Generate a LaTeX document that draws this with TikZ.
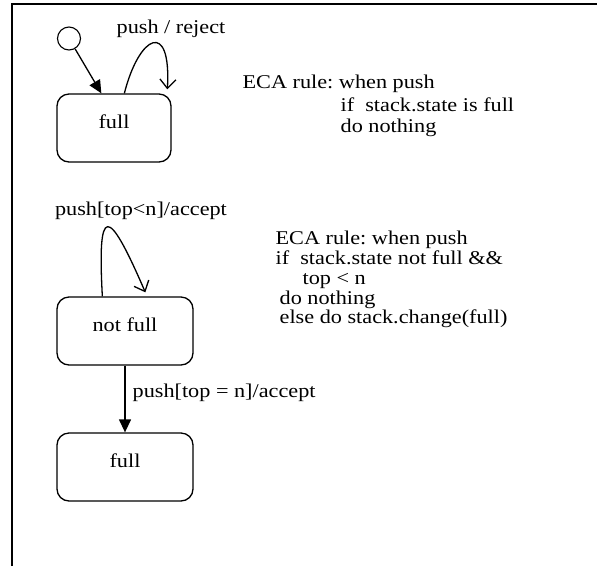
\documentclass[tikz,border=0pt]{standalone}
\usepackage{fontspec}
\setmainfont{Liberation Serif}[FakeStretch=1.14]
\usetikzlibrary{arrows.meta}
\frenchspacing
\begin{document}
\begin{tikzpicture}[x=1pt,y=-1pt,line width=1.3pt,
  frame/.style={line width=2pt},
  initial/.style={draw,circle,minimum size=23pt,inner sep=0pt,line width=1.1pt},
  state/.style={draw,rounded corners=12pt,minimum height=68pt,
    text height=10pt,text depth=10pt,inner sep=0pt,
    font=\fontsize{19.5}{23}\selectfont},
  txt/.style={inner sep=0pt,font=\fontsize{19.5}{23}\selectfont},
  solidtip/.style={-{Triangle[length=13pt,width=12pt]}},
  opentip/.style={-{Straight Barb[length=9pt,width=16pt]}}]
\useasboundingbox (0,0) rectangle (597,566);

% outer frame (top and left edges)
\draw[frame] (12,566) -- (12,4) -- (597,4);

% first diagram: stack that is full
\node[initial] (init) at (69,38.5) {};
\node[state,minimum width=114pt] (full1) at (114,128) {full};
\coordinate (inTip) at ([xshift=45pt]full1.north west);
\draw[solidtip] (init) -- (inTip);

\coordinate (l1s) at ([xshift=68pt]full1.north west);
\coordinate (l1e) at ([xshift=111pt,yshift=4pt]full1.north west);
\draw[opentip] (l1s) .. controls ([shift={(15,-59)}]l1s) and ([shift={(4,-70)}]l1e) .. (l1e);
\node[txt,anchor=base] (lbl1) at (171,33) {push / reject};

\node[txt,anchor=base west] (eA1) at (242,88) {ECA rule: when push};
\node[txt,anchor=base west] (eA2) at (340,111) {if~~stack.state is full};
\node[txt,anchor=base west] (eA3) at (340,132) {do nothing};

% second diagram: stack that is not full
\node[state,minimum width=136pt] (nf) at (125,331) {not full};
\node[state,minimum width=136pt] (full2) at (125,467) {full};

\coordinate (l2s) at ([xshift=46pt]nf.north west);
\coordinate (l2e) at ([xshift=89pt,yshift=4pt]nf.north west);
\draw[opentip] (l2s) .. controls ([shift={(-5,-92)}]l2s) and ([shift={(-38,-88)}]l2e) .. (l2e);
\node[txt,anchor=base] (lbl2) at (141,215) {push[top<n]/accept};

\draw[solidtip] (nf) -- (full2);
\node[txt,anchor=base west] (lbl3) at (132,397) {push[top = n]/accept};

\node[txt,anchor=base west] (eB1) at (275,244) {ECA rule: when push};
\node[txt,anchor=base west] (eB2) at (275,264) {if~~stack.state not full \&\&};
\node[txt,anchor=base west] (eB3) at (302,284) {top < n};
\node[txt,anchor=base west] (eB4) at (279,304) {do nothing};
\node[txt,anchor=base west] (eB5) at (279,323) {else do stack.change(full)};
\end{tikzpicture}
\end{document}
